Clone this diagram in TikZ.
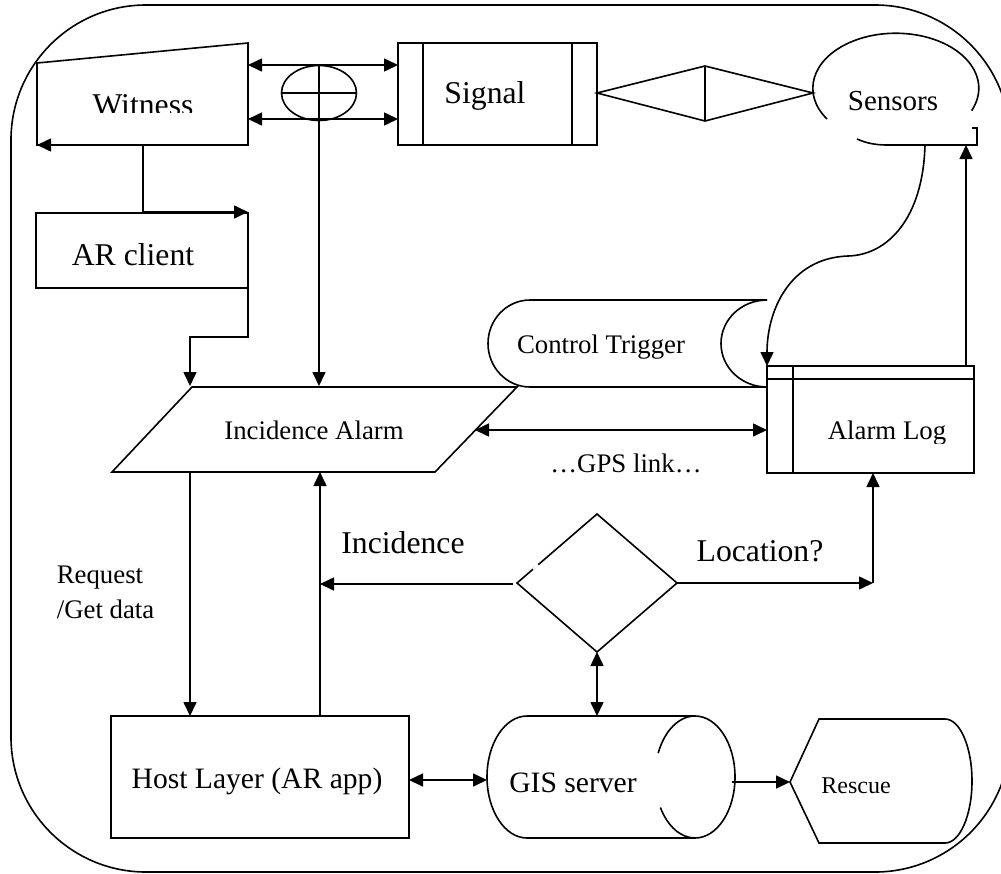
\documentclass[tikz,border=0pt]{standalone}
\usepackage{fontspec}
\setmainfont{Liberation Serif}
\usetikzlibrary{arrows.meta}
\begin{document}
\begin{tikzpicture}[x=1pt,y=-1pt, line width=1.6pt, line join=miter,
  arr/.style={-{Triangle[length=14pt,width=13pt]}},
  darr/.style={{Triangle[length=14pt,width=13pt]}-{Triangle[length=14pt,width=13pt]}},
  big/.style={font=\fontsize{31.7}{35}\selectfont, inner sep=0pt, anchor=base},
  bigb/.style={font=\fontsize{29.6}{33}\selectfont, inner sep=0pt, anchor=base},
  mid/.style={font=\fontsize{26.8}{30}\selectfont, inner sep=0pt, anchor=base},
  sml/.style={font=\fontsize{24}{28}\selectfont, inner sep=0pt, anchor=base}]
\useasboundingbox (0,0) rectangle (1001,873);
\clip (0,0) rectangle (1001,873);

% outer rounded frame
\draw[rounded corners=135pt] (11,5) rectangle (1010,872);

% ---------- Witness ----------
\draw (37,63) -- (248,43) -- (248,145) -- (37,145) -- cycle;
\begin{scope}
  \clip (37,43) rectangle (248,112.5);
  \node[big] (witness) at (143,115) {Witness};
\end{scope}
\coordinate (wb) at (143,145);
\coordinate (wl) at (37,145);
\coordinate (wr1) at (248,65);
\coordinate (wr2) at (248,119);

% ---------- AR client ----------
\draw (36,213) rectangle (248,288);
\node[big] (arclient) at (133,265) {AR client};
\coordinate (arjoin) at (143,212);
\coordinate (artr) at (248,212);
\coordinate (arbr) at (248,288);

% ---------- connector ellipse ----------
\draw (319,93) ellipse [x radius=37.5, y radius=27.5];
\draw (281.5,93) -- (356.5,93);
\coordinate (elltop) at (319,65.5);

% ---------- Signal ----------
\draw (398,43) rectangle (597,145);
\draw (423,43) -- (423,145) (572,43) -- (572,145);
\node[big] (signal) at (485,103) {Signal};
\coordinate (sl1) at (398,65);
\coordinate (sl2) at (398,119);

% ---------- rhombus link ----------
\draw (597,93) -- (705,66) -- (813,93) -- (705,121) -- cycle;
\draw (705,66) -- (705,121);

% ---------- Sensors ----------
\draw (827,119) arc[start angle=146, end angle=384, x radius=83, y radius=55];
\draw (857,139) .. controls (866,143) and (875,145) .. (887,145) -- (977,145) -- (977,128) -- (972,128);
\node[font=\fontsize{29}{33}\selectfont, inner sep=0pt, anchor=base] (sensors) at (893,110) {Sensors};
\coordinate (sensb) at (925,145);
\coordinate (sensr) at (966,145);

% ---------- Control Trigger ----------
\draw (767,300) -- (530,300) arc[start angle=270, end angle=90, x radius=42, y radius=43.5] -- (767,387);
\draw (767,300) arc[start angle=270, end angle=90, x radius=46, y radius=43.5];
\node[mid] (ctrl) at (601,353) {Control Trigger};

% ---------- Incidence Alarm ----------
\draw (192,387) -- (517,387) -- (435,472) -- (112,472) -- cycle;
\node[mid] (ialarm) at (314,439) {Incidence Alarm};
\coordinate (iatop1) at (190,386);
\coordinate (iatop2) at (319,386);
\coordinate (iabot1) at (190,472);
\coordinate (iabot2) at (320,472);
\coordinate (iaright) at (475,430);
\coordinate (arbend1) at (248,337);
\coordinate (arbend2) at (190,337);

% ---------- Alarm Log ----------
\draw (767,366) rectangle (974,473);
\draw (767,379) -- (974,379) (793,366) -- (793,473);
\begin{scope}
  \clip (767,366) rectangle (974,443);
  \node[mid] (alarmlog) at (887,439) {Alarm Log};
\end{scope}
\coordinate (altop1) at (767,366);
\coordinate (altop2) at (966,366);
\coordinate (alleft) at (767,430);
\coordinate (albot) at (873,473);
\node[mid] (gps) at (626,472) {\ldots GPS link\ldots};

% ---------- decision diamond ----------
\draw (517,583) -- (597,514) -- (677,583) -- (597,652) -- cycle;
\draw[white, line width=2.5pt] (533.2,569.2) -- (538.2,564.9);
\coordinate (dl) at (513,584);
\coordinate (dr) at (677,583);
\coordinate (db) at (597,652);
\coordinate (inc) at (320,584);
\coordinate (loc) at (873,583);
\node[big] (incidence) at (403,553) {Incidence};
\node[big] (location) at (760,561) {Location?};

% ---------- Request text ----------
\node[mid, anchor=base west] (req1) at (56,583) {Request};
\node[mid, anchor=base west] (req2) at (56,618) {/Get data};

% ---------- Host Layer ----------
\draw (111,716) rectangle (409,838);
\node[bigb] (host) at (257,788) {Host Layer (AR app)};
\coordinate (htop1) at (190,716);
\coordinate (htop2) at (320,716);
\coordinate (hright) at (409,780);

% ---------- GIS server ----------
\draw (695,716) arc[start angle=270, end angle=450, x radius=40, y radius=61]
      -- (527,838) arc[start angle=90, end angle=270, x radius=40, y radius=61] -- cycle;
\draw (695,716) arc[start angle=270, end angle=203, x radius=40, y radius=61];
\draw (660.4,807.5) arc[start angle=150, end angle=90, x radius=40, y radius=61];
\node[bigb] (gis) at (573,792) {GIS server};
\coordinate (gisl) at (487,780);
\coordinate (gist) at (597,716);
\coordinate (gisr) at (732,782);

% ---------- Rescue ----------
\draw (790,782) -- (819,719) -- (945,719) arc[start angle=270, end angle=450, x radius=27, y radius=62] -- (819,843) -- cycle;
\node[sml] (rescue) at (856,793) {Rescue};
\coordinate (resl) at (790,782);

% ---------- connectors ----------
\draw[arr] (wb) -- (wl);
\draw[arr] (wb) -- (arjoin) -- (artr);
\draw[darr] (wr1) -- (sl1);
\draw[darr] (wr2) -- (sl2);
\draw[arr] (elltop) -- (iatop2);
\draw[arr] (arbr) -- (arbend1) -- (arbend2) -- (iatop1);
\draw[arr] (sensb) .. controls (923,218) and (888,255) .. (848,256) .. controls (790,258) and (767,310) .. (altop1);
\draw[arr] (altop2) -- (sensr);
\draw[darr] (iaright) -- (alleft);
\draw[arr] (iabot1) -- (htop1);
\draw[arr] (htop2) -- (iabot2);
\draw[arr] (dl) -- (inc);
\draw[arr] (dr) -- (loc);
\draw[arr] (loc) -- (albot);
\draw[darr] (db) -- (gist);
\draw[darr] (hright) -- (gisl);
\draw[arr] (gisr) -- (resl);
\end{tikzpicture}
\end{document}
